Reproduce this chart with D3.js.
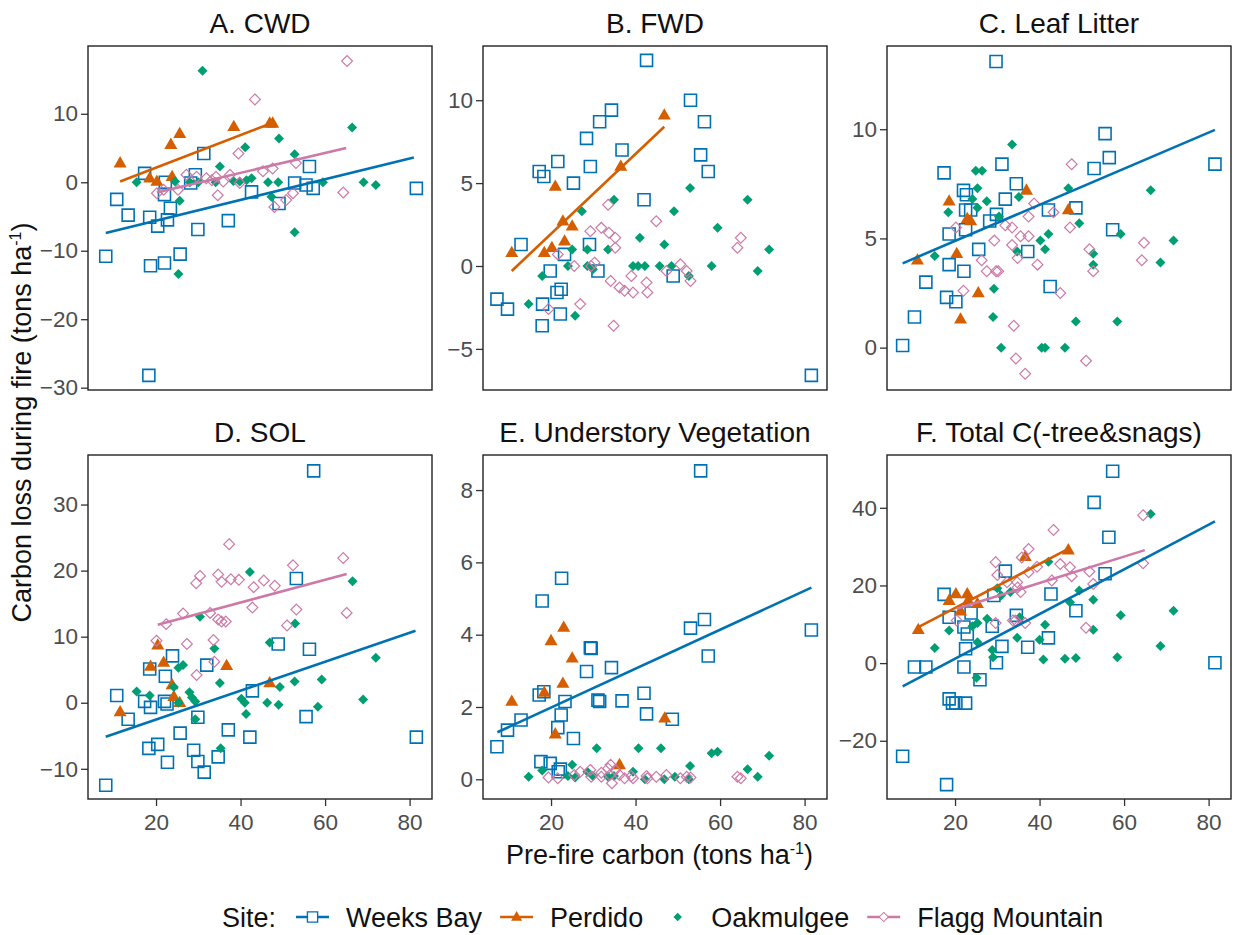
<!DOCTYPE html>
<html>
<head>
<meta charset="utf-8">
<script src="https://cdn.jsdelivr.net/npm/d3@7"></script>
<style>
  body { margin: 0; background: #fff; }
  text { font-family: "Liberation Sans", Arial, sans-serif; }
</style>
</head>
<body>
<svg id="chart" width="1239" height="935"></svg>
<script>
// ---- categories / labels ----
const sites = ["Weeks Bay", "Perdido", "Oakmulgee", "Flagg Mountain"];
const siteColors = ["#0072B2", "#D55E00", "#009E73", "#CC79A7"];
const panelTitles = ["A. CWD", "B. FWD", "C. Leaf Litter", "D. SOL", "E. Understory Vegetation", "F. Total C(-tree&snags)"];
const xTicks = [20, 40, 60, 80];

// ---- A. CWD : [pre-fire carbon, carbon loss] ----
const cwdWeeksBay = [[8.1,-10.8],[10.7,-2.5],[13.4,-4.8],[17.3,1.3],[18.5,-5.1],[18.7,-12.2],[20.4,-6.4],[22.0,-1.8],[22.0,-11.8],[22.2,0.0],[22.7,-5.5],[23.4,-3.8],[25.7,-10.5],[18.3,-28.2],[29.3,1.1],[28.2,-0.1],[29.9,-6.9],[31.3,4.2],[37.1,-5.6],[42.6,-1.4],[49.1,-3.1],[52.8,-0.1],[55.5,-0.4],[56.3,2.3],[57.2,-0.9],[81.6,-0.9]];
const cwdPerdido = [[11.5,2.8],[18.5,0.6],[20.2,0.1],[23.5,5.5],[23.8,0.8],[25.6,7.1],[38.4,8.1],[46.9,8.6],[47.6,8.6]];
const cwdOakmulgee = [[15.4,0],[24.5,0.1],[25.6,-2.7],[25.3,-13.4],[28.0,0],[30.0,0],[31.0,16.3],[34.1,0],[35.1,2.3],[38.3,0.2],[39.8,0.1],[41.1,5.1],[41.4,0.3],[42.6,0.6],[46.5,0],[47.3,-2.1],[48.9,0],[49.1,6.4],[52.8,4.1],[52.8,-7.3],[59.5,0],[66.4,8.0],[69.1,0],[72.0,-0.4]];
const cwdFlagg = [[20.2,-1.6],[21.8,-1.1],[25.2,-1.1],[27.2,1.1],[29.6,0.8],[31.9,0.6],[33.2,0.3],[34.2,0.8],[34.6,-1.9],[35.9,0.1],[37.5,1.1],[39.5,4.2],[39.8,-0.1],[43.4,12.1],[45.3,1.6],[47.6,2.0],[48.0,-3.6],[50.8,-2.6],[52.4,-1.6],[53.1,2.8],[64.3,-1.5],[65.2,17.7]];

// ---- B. FWD ----
const fwdWeeksBay = [[7.2,-2.0],[9.7,-2.6],[12.9,1.3],[17.2,5.7],[18.3,5.4],[17.9,-3.6],[18.0,-2.3],[19.8,-0.3],[21.6,6.3],[21.4,-1.6],[22.4,-1.4],[22.2,-2.9],[23.2,0.7],[25.3,5.0],[28.4,7.7],[29.3,6.0],[31.5,8.7],[34.3,9.4],[29.1,1.3],[31.1,-0.3],[36.8,7.0],[42.0,4.0],[42.6,12.4],[48.9,-0.6],[53.0,10.0],[55.4,6.7],[56.3,8.7],[57.2,5.7],[81.6,-6.6]];
const fwdPerdido = [[10.7,0.8],[18.4,0.8],[20.2,1.1],[21.0,4.8],[22.8,2.7],[23.2,1.5],[25.0,2.4],[36.5,6.0],[46.8,9.1]];
const fwdOakmulgee = [[14.7,-2.3],[17.9,-0.6],[25.7,-3.0],[24.0,0],[25.0,1.0],[27.3,3.3],[28.6,1.0],[28.6,0],[29.9,-0.2],[33.5,1.0],[34.9,4.0],[39.4,0],[40.6,0],[42.2,0],[41.0,1.7],[45.7,0],[46.8,1.3],[48.5,0],[49.1,3.3],[52.9,4.7],[52.6,-0.6],[58.0,0],[59.4,2.3],[66.5,4.0],[68.9,-0.3],[71.6,1.0]];
const fwdFlagg = [[19.4,-2.6],[21.6,0.7],[25.5,0],[26.9,-2.3],[29.3,2.1],[29.5,0],[30.3,0.2],[31.9,2.3],[33.5,3.7],[33.7,2.0],[35.2,1.7],[35.2,1.1],[34.1,-0.9],[34.8,-3.6],[36.2,-1.3],[37.4,-1.5],[39.0,-0.6],[39.4,-1.6],[42.6,-1.0],[42.8,-1.6],[44.9,2.7],[47.3,-0.3],[50.6,0.1],[52.1,-0.3],[53.0,-0.9],[64.1,1.1],[64.9,1.7]];

// ---- C. Leaf Litter ----
const litterWeeksBay = [[7.6,0.1],[10.4,1.4],[13.1,3.0],[17.4,8.0],[18.0,2.3],[18.6,3.8],[18.6,5.2],[20.2,2.1],[22.0,7.2],[22.7,7.0],[22.1,3.5],[22.5,5.4],[22.5,6.3],[23.7,6.3],[25.6,4.5],[28.2,5.8],[29.8,6.1],[29.7,13.1],[31.1,8.4],[31.9,6.8],[34.5,7.5],[37.2,4.4],[42.1,6.3],[42.5,2.8],[48.6,6.4],[52.9,8.2],[55.5,9.8],[56.5,8.7],[57.3,5.4],[81.5,8.4]];
const litterPerdido = [[11.1,4.0],[18.6,6.7],[20.4,4.3],[21.3,1.3],[22.9,5.9],[23.7,5.8],[25.5,2.5],[36.9,7.2],[46.8,6.3]];
const litterOakmulgee = [[15.2,4.2],[18.4,6.2],[24.1,6.8],[24.9,8.1],[26.4,8.1],[25.3,7.3],[25.3,6.4],[27.5,6.7],[29.2,2.7],[29.0,1.4],[30.4,6.0],[30.9,0],[33.5,9.3],[35.1,6.9],[34.7,4.4],[40.2,4.9],[41.3,4.5],[42.1,5.2],[40.5,0],[41.3,0],[46.0,0],[46.8,7.3],[48.6,1.2],[49.4,5.7],[52.7,4.3],[52.7,3.8],[58.4,1.2],[59.2,5.2],[66.3,7.2],[68.6,3.9],[71.7,4.9]];
const litterFlagg = [[20.2,5.5],[22.0,2.6],[26.3,4.0],[27.5,3.5],[29.3,4.9],[29.7,3.5],[30.2,3.5],[31.9,5.6],[33.5,5.5],[33.5,4.7],[33.9,1.0],[34.4,-0.5],[34.8,4.1],[35.5,5.1],[36.6,-1.2],[37.4,6.0],[37.4,5.1],[38.7,6.6],[39.5,3.8],[43.3,6.2],[44.9,2.5],[47.2,5.5],[47.6,8.4],[51.0,-0.6],[51.8,4.5],[52.7,3.5],[64.2,4.0],[64.7,4.8]];

// ---- D. SOL ----
const solWeeksBay = [[8.1,-12.5],[10.7,1.1],[13.4,-2.5],[17.3,0.2],[18.5,5.1],[18.3,-6.9],[18.7,-0.7],[20.4,-6.3],[22.0,0.2],[22.2,4.0],[22.6,-0.2],[22.7,-9.0],[23.9,7.1],[25.7,-4.6],[28.9,-7.2],[29.9,-8.9],[29.9,-2.2],[31.4,-10.5],[32.0,5.7],[34.7,-8.2],[37.1,-4.1],[42.2,-5.2],[42.8,1.8],[48.9,8.9],[53.2,18.8],[55.5,-2.1],[56.3,8.1],[57.3,35.1],[81.6,-5.2]];
const solPerdido = [[11.5,-1.4],[18.7,5.5],[20.4,8.7],[21.8,6.1],[23.8,2.7],[24.2,0.9],[25.6,0],[36.7,5.6],[46.9,3.0]];
const solOakmulgee = [[15.4,1.7],[18.5,1.1],[24.2,2.4],[25.3,5.3],[26.4,5.7],[25.3,0],[27.9,1.6],[28.5,0.8],[29.3,0.2],[29.3,-2.5],[30.4,13.0],[33.8,8.2],[35.1,3.0],[35.3,-6.9],[40.2,0.6],[41.0,0],[41.3,-1.7],[42.2,19.8],[46.3,0],[46.9,9.1],[49.0,-0.3],[49.3,2.4],[52.8,3.2],[52.9,12.0],[58.3,-0.6],[59.2,3.5],[66.5,18.4],[69.0,0.5],[72.0,6.8]];
const solFlagg = [[20.1,9.4],[22.4,11.9],[26.4,13.5],[27.3,8.9],[29.5,18.1],[30.4,19.2],[29.6,4.2],[32.8,13.6],[33.6,9.5],[33.8,6.2],[34.7,19.4],[35.5,18.3],[34.7,12.6],[35.5,12.3],[36.5,12.3],[37.3,24.0],[37.7,18.7],[39.6,18.6],[42.8,14.4],[43.1,17.5],[45.5,18.5],[48.1,17.7],[51.0,11.7],[52.4,20.8],[53.2,14.1],[64.3,21.9],[65.1,13.6]];

// ---- E. Understory Vegetation ----
const underWeeksBay = [[7.2,0.9],[9.7,1.36],[12.9,1.64],[17.2,2.33],[18.3,2.42],[17.9,4.93],[17.6,0.49],[19.8,0.44],[21.6,1.43],[22.4,1.78],[22.2,0.28],[21.7,0.21],[22.5,5.56],[23.3,2.15],[25.3,1.13],[28.4,2.98],[29.3,3.64],[29.5,3.62],[31.1,2.19],[31.5,2.15],[34.3,3.09],[36.8,2.17],[42.0,2.38],[42.6,1.81],[48.7,1.66],[53.0,4.18],[56.3,4.42],[57.2,3.41],[55.4,8.53],[81.6,4.13]];
const underPerdido = [[10.7,2.15],[18.4,2.4],[20.0,3.83],[21.0,1.25],[23.0,4.2],[22.8,2.65],[25.0,3.35],[36.2,0.4],[46.9,1.69]];
const underOakmulgee = [[14.7,0.07],[17.9,0.24],[24.0,0.09],[25.0,0.4],[25.7,0.05],[28.6,0.21],[29.9,0.09],[30.8,0.86],[33.5,0.07],[34.9,0.09],[39.4,0.21],[40.7,0.86],[42.2,0],[46.0,0.86],[46.8,0],[49.3,0.07],[52.6,0],[52.9,0.37],[58.0,0.72],[59.4,0.76],[66.5,0.28],[68.9,0.07],[71.6,0.65]];
const underFlagg = [[19.4,0.05],[21.6,0.03],[25.5,0.12],[26.9,0.21],[29.3,0.26],[29.5,0.07],[31.9,0.07],[31.9,0.18],[33.5,0.3],[33.9,0.12],[34.4,-0.11],[35.2,0.26],[34.1,0.4],[36.2,0.12],[37.4,0.03],[39.0,0.09],[39.4,0.03],[42.6,0.09],[42.8,0.03],[44.9,0.07],[47.3,0.12],[50.6,0.03],[52.1,0.07],[53.0,0.05],[64.1,0.07],[64.9,0.03]];

// ---- F. Total C(-tree&snags) ----
const totalWeeksBay = [[7.6,-24.0],[10.4,-1.0],[13.1,-1.0],[17.4,17.7],[18.6,11.8],[18.6,-9.2],[18.0,-31.3],[19.4,-10.3],[20.2,-10.3],[22.1,9.3],[22.5,-10.3],[22.1,-1.0],[22.9,7.5],[22.5,3.7],[23.8,12.9],[25.9,-4.3],[28.8,9.5],[29.2,17.4],[29.8,0.1],[31.1,4.3],[31.9,23.7],[34.5,12.3],[37.2,4.1],[42.1,6.5],[42.7,17.8],[48.6,13.5],[52.9,41.4],[55.5,23.0],[56.4,32.4],[57.3,49.4],[81.5,0.1]];
const totalPerdido = [[11.3,8.6],[18.6,16.1],[20.2,17.8],[21.3,13.4],[22.9,17.8],[23.1,16.1],[25.3,15.3],[36.6,27.4],[46.8,29.1]];
const totalOakmulgee = [[15.2,3.9],[18.6,8.4],[24.1,9.5],[25.3,10.3],[25.3,5.4],[25.1,-3.8],[27.6,11.4],[28.8,3.4],[29.0,1.5],[30.0,19.3],[30.9,17.4],[33.1,18.3],[34.7,6.5],[35.3,11.8],[40.0,6.0],[41.3,9.9],[40.9,0.9],[42.1,26.1],[46.0,1.1],[47.2,15.7],[48.6,1.3],[49.4,18.7],[52.7,16.3],[52.7,8.6],[58.4,1.5],[59.2,12.3],[66.3,38.4],[68.6,4.4],[71.7,13.5]];
const totalFlagg = [[20.4,11.0],[29.6,26.0],[30.0,22.7],[29.6,10.3],[32.3,20.8],[33.7,11.0],[34.3,11.0],[34.7,20.8],[34.8,19.5],[35.5,18.3],[36.6,10.3],[35.8,27.2],[37.4,29.4],[37.4,23.4],[39.4,24.8],[42.9,21.3],[43.3,34.3],[44.9,25.5],[47.2,24.7],[47.6,22.4],[51.0,9.1],[51.8,23.6],[52.7,20.4],[64.5,38.1],[64.5,25.7]];

// ---- fitted lines (end points), by site index ----
const cwdFits = [[[8.1,-7.4],[81.0,3.6]], [[11.5,0.1],[47.6,8.7]], null, [[20.2,-1.5],[65.0,5.0]]];
const fwdFits = [null, [[10.7,-0.3],[46.8,8.4]], null, null];
const litterFits = [[[7.6,3.86],[81.5,9.97]], null, null, null];
const solFits = [[[8.1,-5.15],[81.4,10.9]], null, null, [[20.4,11.8],[65.1,19.5]]];
const underFits = [[[7.3,1.30],[81.6,5.30]], null, null, null];
const totalFits = [[[7.6,-6.0],[81.5,36.5]], [[11.3,9.25],[46.8,29.4]], null, [[20.4,14.0],[64.9,29.1]]];

// ---- y axes ----
const yDomains = [[-30.34, 19.9], [-7.48, 13.27], [-1.94, 13.81], [-14.57, 37.5], [-0.545, 8.97], [-35.0, 53.6]];
const yTicks = [[-30, -20, -10, 0, 10], [-5, 0, 5, 10], [0, 5, 10], [-10, 0, 10, 20, 30], [0, 2, 4, 6, 8], [-20, 0, 20, 40]];

const panels = [
  { points: [cwdWeeksBay, cwdPerdido, cwdOakmulgee, cwdFlagg], fits: cwdFits },
  { points: [fwdWeeksBay, fwdPerdido, fwdOakmulgee, fwdFlagg], fits: fwdFits },
  { points: [litterWeeksBay, litterPerdido, litterOakmulgee, litterFlagg], fits: litterFits },
  { points: [solWeeksBay, solPerdido, solOakmulgee, solFlagg], fits: solFits },
  { points: [underWeeksBay, underPerdido, underOakmulgee, underFlagg], fits: underFits },
  { points: [totalWeeksBay, totalPerdido, totalOakmulgee, totalFlagg], fits: totalFits }
];

// ---- layout ----
const colLeft = [88, 483, 887];
const rowTop = [46, 455];
const panelW = 344, panelH = 344;
const xDomain = [3.9, 85.3];
const tickColor = "#333333";
const labelColor = "#4d4d4d";
const tickFont = 22.5, titleFont = 28, axisTitleFont = 27;

// point glyphs, one per site
const glyphs = [
  { d: "M-6,-6H6V6H-6Z", fill: "none", stroke: true, sw: 1.6 },
  { d: "M0,-7L6.5,4.3L-6.5,4.3Z", fill: true, stroke: false },
  { d: "M0,-5L5,0L0,5L-5,0Z", fill: true, stroke: false },
  { d: "M0,-5.4L5.4,0L0,5.4L-5.4,0Z", fill: "none", stroke: true, sw: 1.2 }
];

const svg = d3.select("#chart");
svg.append("rect").attr("width", 1239).attr("height", 935).attr("fill", "#fff");

panels.forEach(function(p, i) {
  const col = i % 3, row = Math.floor(i / 3);
  const g = svg.append("g")
    .attr("transform", "translate(" + colLeft[col] + "," + rowTop[row] + ")");

  const x = d3.scaleLinear().domain(xDomain).range([0, panelW]);
  const y = d3.scaleLinear().domain(yDomains[i]).range([panelH, 0]);

  // title
  g.append("text")
    .attr("x", panelW / 2).attr("y", -13)
    .attr("text-anchor", "middle")
    .attr("font-size", titleFont).attr("fill", "#111")
    .text(panelTitles[i]);

  // y axis
  const ya = g.append("g")
    .call(d3.axisLeft(y).tickValues(yTicks[i]).tickSize(7).tickPadding(3));
  ya.select(".domain").remove();
  ya.selectAll(".tick line").attr("stroke", tickColor).attr("stroke-width", 1.3);
  ya.selectAll(".tick text").attr("font-size", tickFont).attr("fill", labelColor)
    .attr("font-family", "'Liberation Sans', Arial, sans-serif");

  // x axis only on bottom row
  if (row === 1) {
    const xa = g.append("g")
      .attr("transform", "translate(0," + panelH + ")")
      .call(d3.axisBottom(x).tickValues(xTicks).tickSize(7).tickPadding(8));
    xa.select(".domain").remove();
    xa.selectAll(".tick line").attr("stroke", tickColor).attr("stroke-width", 1.3);
    xa.selectAll(".tick text").attr("font-size", tickFont).attr("fill", labelColor)
      .attr("font-family", "'Liberation Sans', Arial, sans-serif");
  }

  // points
  p.points.forEach(function(pts, s) {
    const gl = glyphs[s];
    g.append("g").selectAll("path")
      .data(pts)
      .enter()
      .append("path")
      .attr("d", gl.d)
      .attr("transform", function(d) { return "translate(" + x(d[0]) + "," + y(d[1]) + ")"; })
      .attr("fill", gl.fill === true ? siteColors[s] : "none")
      .attr("stroke", gl.stroke ? siteColors[s] : "none")
      .attr("stroke-width", gl.sw || 0);
  });

  // fitted lines
  const line = d3.line().x(function(d) { return x(d[0]); }).y(function(d) { return y(d[1]); });
  p.fits.forEach(function(f, s) {
    if (!f) return;
    g.append("path")
      .datum(f)
      .attr("d", line)
      .attr("fill", "none")
      .attr("stroke", siteColors[s])
      .attr("stroke-width", 2.6);
  });

  // panel border
  g.append("rect")
    .attr("width", panelW).attr("height", panelH)
    .attr("fill", "none").attr("stroke", "#222").attr("stroke-width", 1.4);
});

// axis titles
const xTitle = svg.append("text")
  .attr("x", (colLeft[0] + colLeft[2] + panelW) / 2).attr("y", 864)
  .attr("text-anchor", "middle").attr("font-size", axisTitleFont).attr("fill", "#111");
xTitle.append("tspan").text("Pre-fire carbon (tons ha");
xTitle.append("tspan").attr("font-size", 16).attr("dy", -10).text("-1");
xTitle.append("tspan").attr("dy", 10).text(")");

const yTitle = svg.append("text")
  .attr("transform", "translate(31," + ((rowTop[0] + rowTop[1] + panelH) / 2) + ") rotate(-90)")
  .attr("text-anchor", "middle").attr("font-size", axisTitleFont).attr("fill", "#111");
yTitle.append("tspan").text("Carbon loss during fire (tons ha");
yTitle.append("tspan").attr("font-size", 16).attr("dy", -10).text("-1");
yTitle.append("tspan").attr("dy", 10).text(")");

// legend
const legendHasLine = [true, true, false, true];
const legend = svg.append("g").attr("transform", "translate(0,927)");
let lx = 222;
const siteLabel = legend.append("text").attr("x", lx).attr("font-size", axisTitleFont).attr("fill", "#111").text("Site:");
lx += siteLabel.node().getComputedTextLength() + 20;
sites.forEach(function(name, s) {
  const cx = lx + 16.5;
  if (legendHasLine[s]) {
    legend.append("line")
      .attr("x1", lx).attr("x2", lx + 33).attr("y1", -10).attr("y2", -10)
      .attr("stroke", siteColors[s]).attr("stroke-width", 2.6);
  }
  const gl = glyphs[s];
  legend.append("path")
    .attr("d", gl.d)
    .attr("transform", "translate(" + cx + ",-10) scale(0.85)")
    .attr("fill", gl.fill === true ? siteColors[s] : "#fff")
    .attr("stroke", gl.stroke ? siteColors[s] : "none")
    .attr("stroke-width", gl.sw || 0);
  const t = legend.append("text").attr("x", lx + 50).attr("font-size", axisTitleFont).attr("fill", "#111").text(name);
  lx += 50 + t.node().getComputedTextLength() + 18;
});
</script>
</body>
</html>
